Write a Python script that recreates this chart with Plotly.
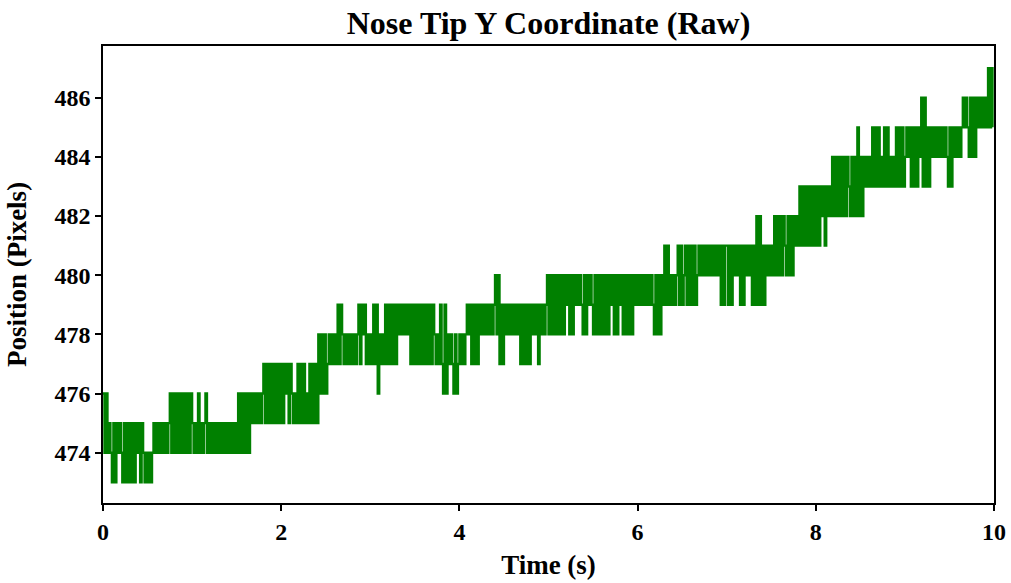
import numpy as np
import plotly.graph_objects as go

# ---- data ----
# Samples at FPS frames per second; each character is one sample.
# Code: '3'..'9' -> 473..479, 'A'..'H' -> 480..487 (base-36 digit + 470)
FPS = 60
BASE = 470
SECOND_0 = ("6464" "54" "353" "5454" "3535353535" "45" "35" "4343434"
            "54545454545" "646464646464646")
SECOND_1 = ("5454" "64" "545" "64" "54545454545454545454" "646464646"
            "56565656" "757575757575")
SECOND_2 = ("75767576" "565" "757575" "65" "757575" "868686" "7878787"
            "979" "87878787878" "979" "8" "97" "87")
SECOND_3 = ("87" "979" "68" "78" "7979797979" "89898989"
            "7979797979797979" "8787" "97" "6968" "787" "686" "7")
SECOND_4 = ("87878" "989" "797979" "8989898989" "A8A" "7979" "8989898989"
            "7979797" "98989" "79" "8989" "A")
SECOND_5 = ("8A8A8A8A8A8A" "9A" "8A8" "A9A9A9" "8A8" "A9A9" "8A8A8A8A8A8A"
            "9A" "8A8" "A9" "A8A8A8A8" "A9A")
SECOND_6 = ("9A9A9A9A9A9" "8A8A8" "A9" "B9B" "9A9A9A" "B9B" "9A" "B9B9B9B9"
            "ABABABABABABABAB" "9B9B")
SECOND_7 = ("B9B9B" "ABAB" "9B9B" "ABA" "B9B9" "C9C" "9B9" "BABAB"
            "ACACACAC" "B" "ACACA" "CBC" "BDBDBDBDBDBD")
SECOND_8 = ("BDBDCDBD" "CD" "CECECECECECE" "D" "CECE" "CFC" "EC" "EDEDED"
            "FDFDFD" "ED" "FDF" "DEDE" "DFDFDFD")
SECOND_9 = ("EFEF" "DFDFD" "FE" "GDG" "DFD" "FEFEFEFEFEFE" "DFD" "FEFEFEF"
            "GFGF" "EGEGE" "GFGFGFGF" "HFHF")
SECONDS = [SECOND_0, SECOND_1, SECOND_2, SECOND_3, SECOND_4,
           SECOND_5, SECOND_6, SECOND_7, SECOND_8, SECOND_9]

X_TICKS = [0, 2, 4, 6, 8, 10]
Y_TICKS = [474, 476, 478, 480, 482, 484, 486]

TITLE = "Nose Tip Y Coordinate (Raw)"
X_TITLE = "Time (s)"
Y_TITLE = "Position (Pixels)"

# ---- build series ----
values = [int(c, 36) + BASE for s in SECONDS for c in s]
time = np.arange(len(values)) / FPS

FONT = "Liberation Serif, Times New Roman, serif"

fig = go.Figure()
fig.add_trace(go.Scatter(
    x=time, y=values, mode="lines",
    line=dict(color="#008000", width=2.4, shape="hv", simplify=False),
    hoverinfo="skip",
))

axis_common = dict(
    showline=True, linecolor="black", linewidth=1.5, mirror=True,
    ticks="outside", ticklen=6, tickwidth=1.5, tickcolor="black",
    showgrid=False, zeroline=False, automargin=False,
    tickfont=dict(family=FONT, size=24, color="black", weight="bold"),
)

fig.update_layout(
    template="none",
    width=1011, height=583,
    margin=dict(l=103, r=17, t=46, b=80, autoexpand=False),
    paper_bgcolor="white", plot_bgcolor="white",
    showlegend=False,
    title=dict(
        text=TITLE, x=0.5, xref="paper", xanchor="center",
        y=1 - 23 / 583, yref="container", yanchor="middle",
        font=dict(family=FONT, size=32, color="black", weight="bold"),
    ),
    xaxis=dict(
        range=[0, 10], tickvals=X_TICKS, ticktext=[str(v) for v in X_TICKS],
        title=dict(text=X_TITLE, standoff=12,
                   font=dict(family=FONT, size=27, color="black", weight="bold")),
        **axis_common,
    ),
    yaxis=dict(
        range=[472.3, 487.75], tickvals=Y_TICKS, ticktext=[str(v) for v in Y_TICKS],
        title=dict(text=Y_TITLE, standoff=20,
                   font=dict(family=FONT, size=27, color="black", weight="bold")),
        **axis_common,
    ),
)

fig.write_html("out.html")
